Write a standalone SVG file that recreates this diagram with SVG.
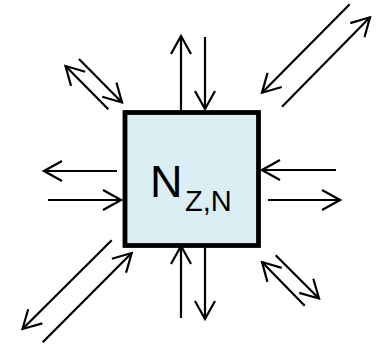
<svg xmlns="http://www.w3.org/2000/svg" width="386" height="346" viewBox="0 0 386 346">
<style>
.c line{stroke:#000;stroke-width:2.2;fill:none;marker-end:url(#ah)}
.t{font-family:"Liberation Sans",Arial,sans-serif;fill:#000}
</style>
<defs>
<marker id="ah" markerUnits="userSpaceOnUse" viewBox="-20 -12 22 24" refX="0" refY="0" markerWidth="22" markerHeight="24" orient="auto">
<path d="M-18,-10 L0,0 L-18,10" fill="none" stroke="#000" stroke-width="2.2" stroke-linecap="butt"/>
</marker>
</defs>
<g id="node">
<rect x="125" y="112.5" width="133.5" height="133" fill="#DAEEF3" stroke="#000" stroke-width="4.8"/>
<text class="t" x="150" y="197" font-size="45">N</text>
<text class="t" x="185" y="211" font-size="29">Z,N</text>
</g>
<g id="connectors" class="c">
<line x1="181" y1="110" x2="181" y2="36"/>
<line x1="205" y1="37" x2="205" y2="109"/>
<line x1="181" y1="318" x2="181" y2="246"/>
<line x1="205" y1="248" x2="205" y2="319"/>
<line x1="117" y1="171" x2="44" y2="171"/>
<line x1="48" y1="200" x2="121" y2="200"/>
<line x1="336" y1="170" x2="262" y2="170"/>
<line x1="268" y1="200" x2="340" y2="200"/>
<line x1="108.3" y1="109.3" x2="65.5" y2="66"/>
<line x1="79" y1="59" x2="122" y2="102.5"/>
<line x1="349.7" y1="4.3" x2="262" y2="92.7"/>
<line x1="282" y1="106.7" x2="370" y2="17.3"/>
<line x1="111.7" y1="240.3" x2="22.5" y2="329"/>
<line x1="42.7" y1="342.3" x2="131.7" y2="253"/>
<line x1="304.7" y1="305.7" x2="262" y2="262"/>
<line x1="275.7" y1="255.3" x2="319" y2="298.5"/>
</g>
</svg>
